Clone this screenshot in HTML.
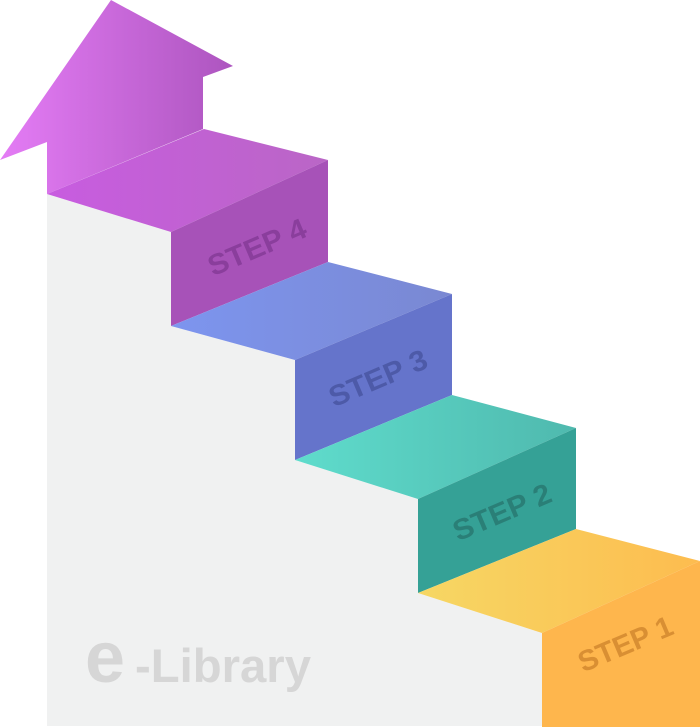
<!DOCTYPE html>
<html><head><meta charset="utf-8"><style>html,body{margin:0;padding:0;background:#fff}svg{display:block}</style></head><body>
<svg width="700" height="727" viewBox="0 0 700 727" xmlns="http://www.w3.org/2000/svg">
<defs>
<linearGradient id="ga" x1="0" x2="1"><stop offset="0" stop-color="#e47cf5"/><stop offset="1" stop-color="#ad55bf"/></linearGradient>
<linearGradient id="g4" x1="0" x2="1"><stop offset="0" stop-color="#c85ce0"/><stop offset="1" stop-color="#ba66c6"/></linearGradient>
<linearGradient id="g3" x1="0" x2="1"><stop offset="0" stop-color="#7d95ef"/><stop offset="1" stop-color="#7a88d2"/></linearGradient>
<linearGradient id="g2" x1="0" x2="1"><stop offset="0" stop-color="#5fdccc"/><stop offset="1" stop-color="#4fb9ae"/></linearGradient>
<linearGradient id="g1" x1="0" x2="1"><stop offset="0" stop-color="#f6d764"/><stop offset="1" stop-color="#fdbc4f"/></linearGradient>
</defs>
<polygon points="47,194 171,232 171,326 295,360 295,460 418,499 418,593 542,633 542,726 47,726" fill="#f0f1f1"/>
<polygon points="0,160 111,0 233,66 203,77 203,129 47,194 47,142" fill="url(#ga)"/>
<polygon points="47,194 204,129 328,160 171,232" fill="url(#g4)"/>
<polygon points="171,232 328,160 328,262 171,326" fill="#a752b8"/>
<polygon points="171,326 328,262 452,294 295,360" fill="url(#g3)"/>
<polygon points="295,360 452,294 452,395 295,460" fill="#6574cb"/>
<polygon points="295,460 452,395 576,428 418,499" fill="url(#g2)"/>
<polygon points="418,499 576,428 576,529 418,593" fill="#35a196"/>
<polygon points="418,593 576,529 700,561 542,633" fill="url(#g1)"/>
<polygon points="542,633 700,561 700,727 542,727" fill="#feb64d"/>
<g font-family="Liberation Sans, sans-serif" font-weight="bold" font-size="29" text-anchor="middle">
<text x="257" y="257" transform="rotate(-23 257 247)" fill="#8a3e9c" textLength="104" lengthAdjust="spacingAndGlyphs">STEP 4</text>
<text x="378" y="388" transform="rotate(-23 378 378)" fill="#4d5aa8" textLength="104" lengthAdjust="spacingAndGlyphs">STEP 3</text>
<text x="502" y="522" transform="rotate(-23 502 512)" fill="#2a7f77" textLength="104" lengthAdjust="spacingAndGlyphs">STEP 2</text>
<text x="625" y="654" transform="rotate(-23 625 643)" fill="#d98f33" textLength="100" lengthAdjust="spacingAndGlyphs">STEP 1</text>
</g>
<g font-family="Liberation Sans, sans-serif" font-weight="bold" fill="#d6d6d6">
<text x="85" y="682" font-size="72" textLength="40" lengthAdjust="spacingAndGlyphs">e</text>
<text x="135" y="682" font-size="47" textLength="176" lengthAdjust="spacingAndGlyphs">-Library</text>
</g>
</svg>
</body></html>
